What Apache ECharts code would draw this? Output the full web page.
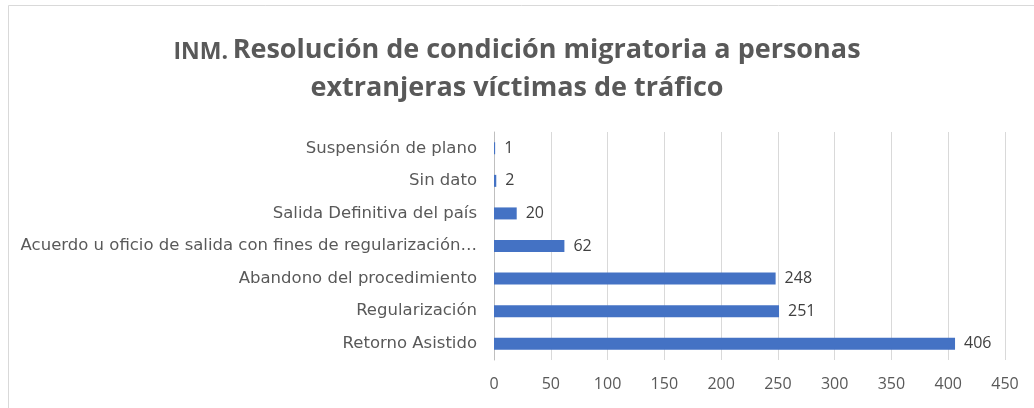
<!DOCTYPE html>
<html>
<head>
<meta charset="utf-8">
<script src="https://cdn.jsdelivr.net/npm/echarts@6/dist/echarts.min.js"></script>
<style>
  html, body { margin: 0; padding: 0; background: #fff; }
  #main { width: 1034px; height: 408px; }
</style>
</head>
<body>
<div id="main"></div>
<script>
// categories bottom to top (ECharts category axis starts at the bottom)
var categorias = [
    'Retorno Asistido',
    'Regularización',
    'Abandono del procedimiento',
    'Acuerdo u oficio de salida con fines de regularización…',
    'Salida Definitiva del país',
    'Sin dato',
    'Suspensión de plano'
];
var valores = [406, 251, 248, 62, 20, 2, 1];
var ticksX = [0, 50, 100, 150, 200, 250, 300, 350, 400, 450];

var myChart = echarts.init(document.getElementById('main'));

var option = {
    backgroundColor: '#fff',
    textStyle: { fontFamily: 'Open Sans' },
    graphic: [{
        type: 'rect',
        shape: { x: 8.5, y: 5.5, width: 1040, height: 420 },
        style: { fill: 'none', stroke: '#d9d9d9', lineWidth: 1 },
        silent: true
    }],
    title: {
        left: 'center',
        top: 26,
        text: '{a|INM.} {b|Resolución de condición migratoria a personas}\n{b|extranjeras víctimas de tráfico}',
        textStyle: {
            rich: {
                a: { fontSize: 23, fontWeight: 'bold', color: '#595959', fontFamily: 'Open Sans', lineHeight: 38, padding: [4, 0, 0, 0] },
                b: { fontSize: 27, fontWeight: 'bold', color: '#595959', fontFamily: 'Open Sans', lineHeight: 38 }
            }
        }
    },
    grid: {
        left: 494,
        right: 29,
        top: 132,
        bottom: 48,
        containLabel: false
    },
    xAxis: {
        type: 'value',
        min: ticksX[0],
        max: ticksX[ticksX.length - 1],
        interval: 50,
        axisLine: { show: false },
        axisTick: { show: false },
        axisLabel: { color: '#595959', fontSize: 16, margin: 16 },
        splitLine: { show: true, lineStyle: { color: '#d9d9d9', width: 1 } }
    },
    yAxis: {
        type: 'category',
        data: categorias,
        axisLine: { show: true, lineStyle: { color: '#bfbfbf' } },
        axisTick: { show: false },
        axisLabel: { color: '#595959', fontSize: 16.5, fontFamily: 'DejaVu Sans', margin: 17 },
        splitLine: { show: false }
    },
    series: [{
        type: 'bar',
        data: valores,
        barWidth: 12,
        itemStyle: { color: '#4472C4' },
        label: {
            show: true,
            position: 'right',
            distance: 9,
            color: '#404040',
            fontSize: 16
        },
        silent: true
    }]
};

myChart.setOption(option);
</script>
</body>
</html>
